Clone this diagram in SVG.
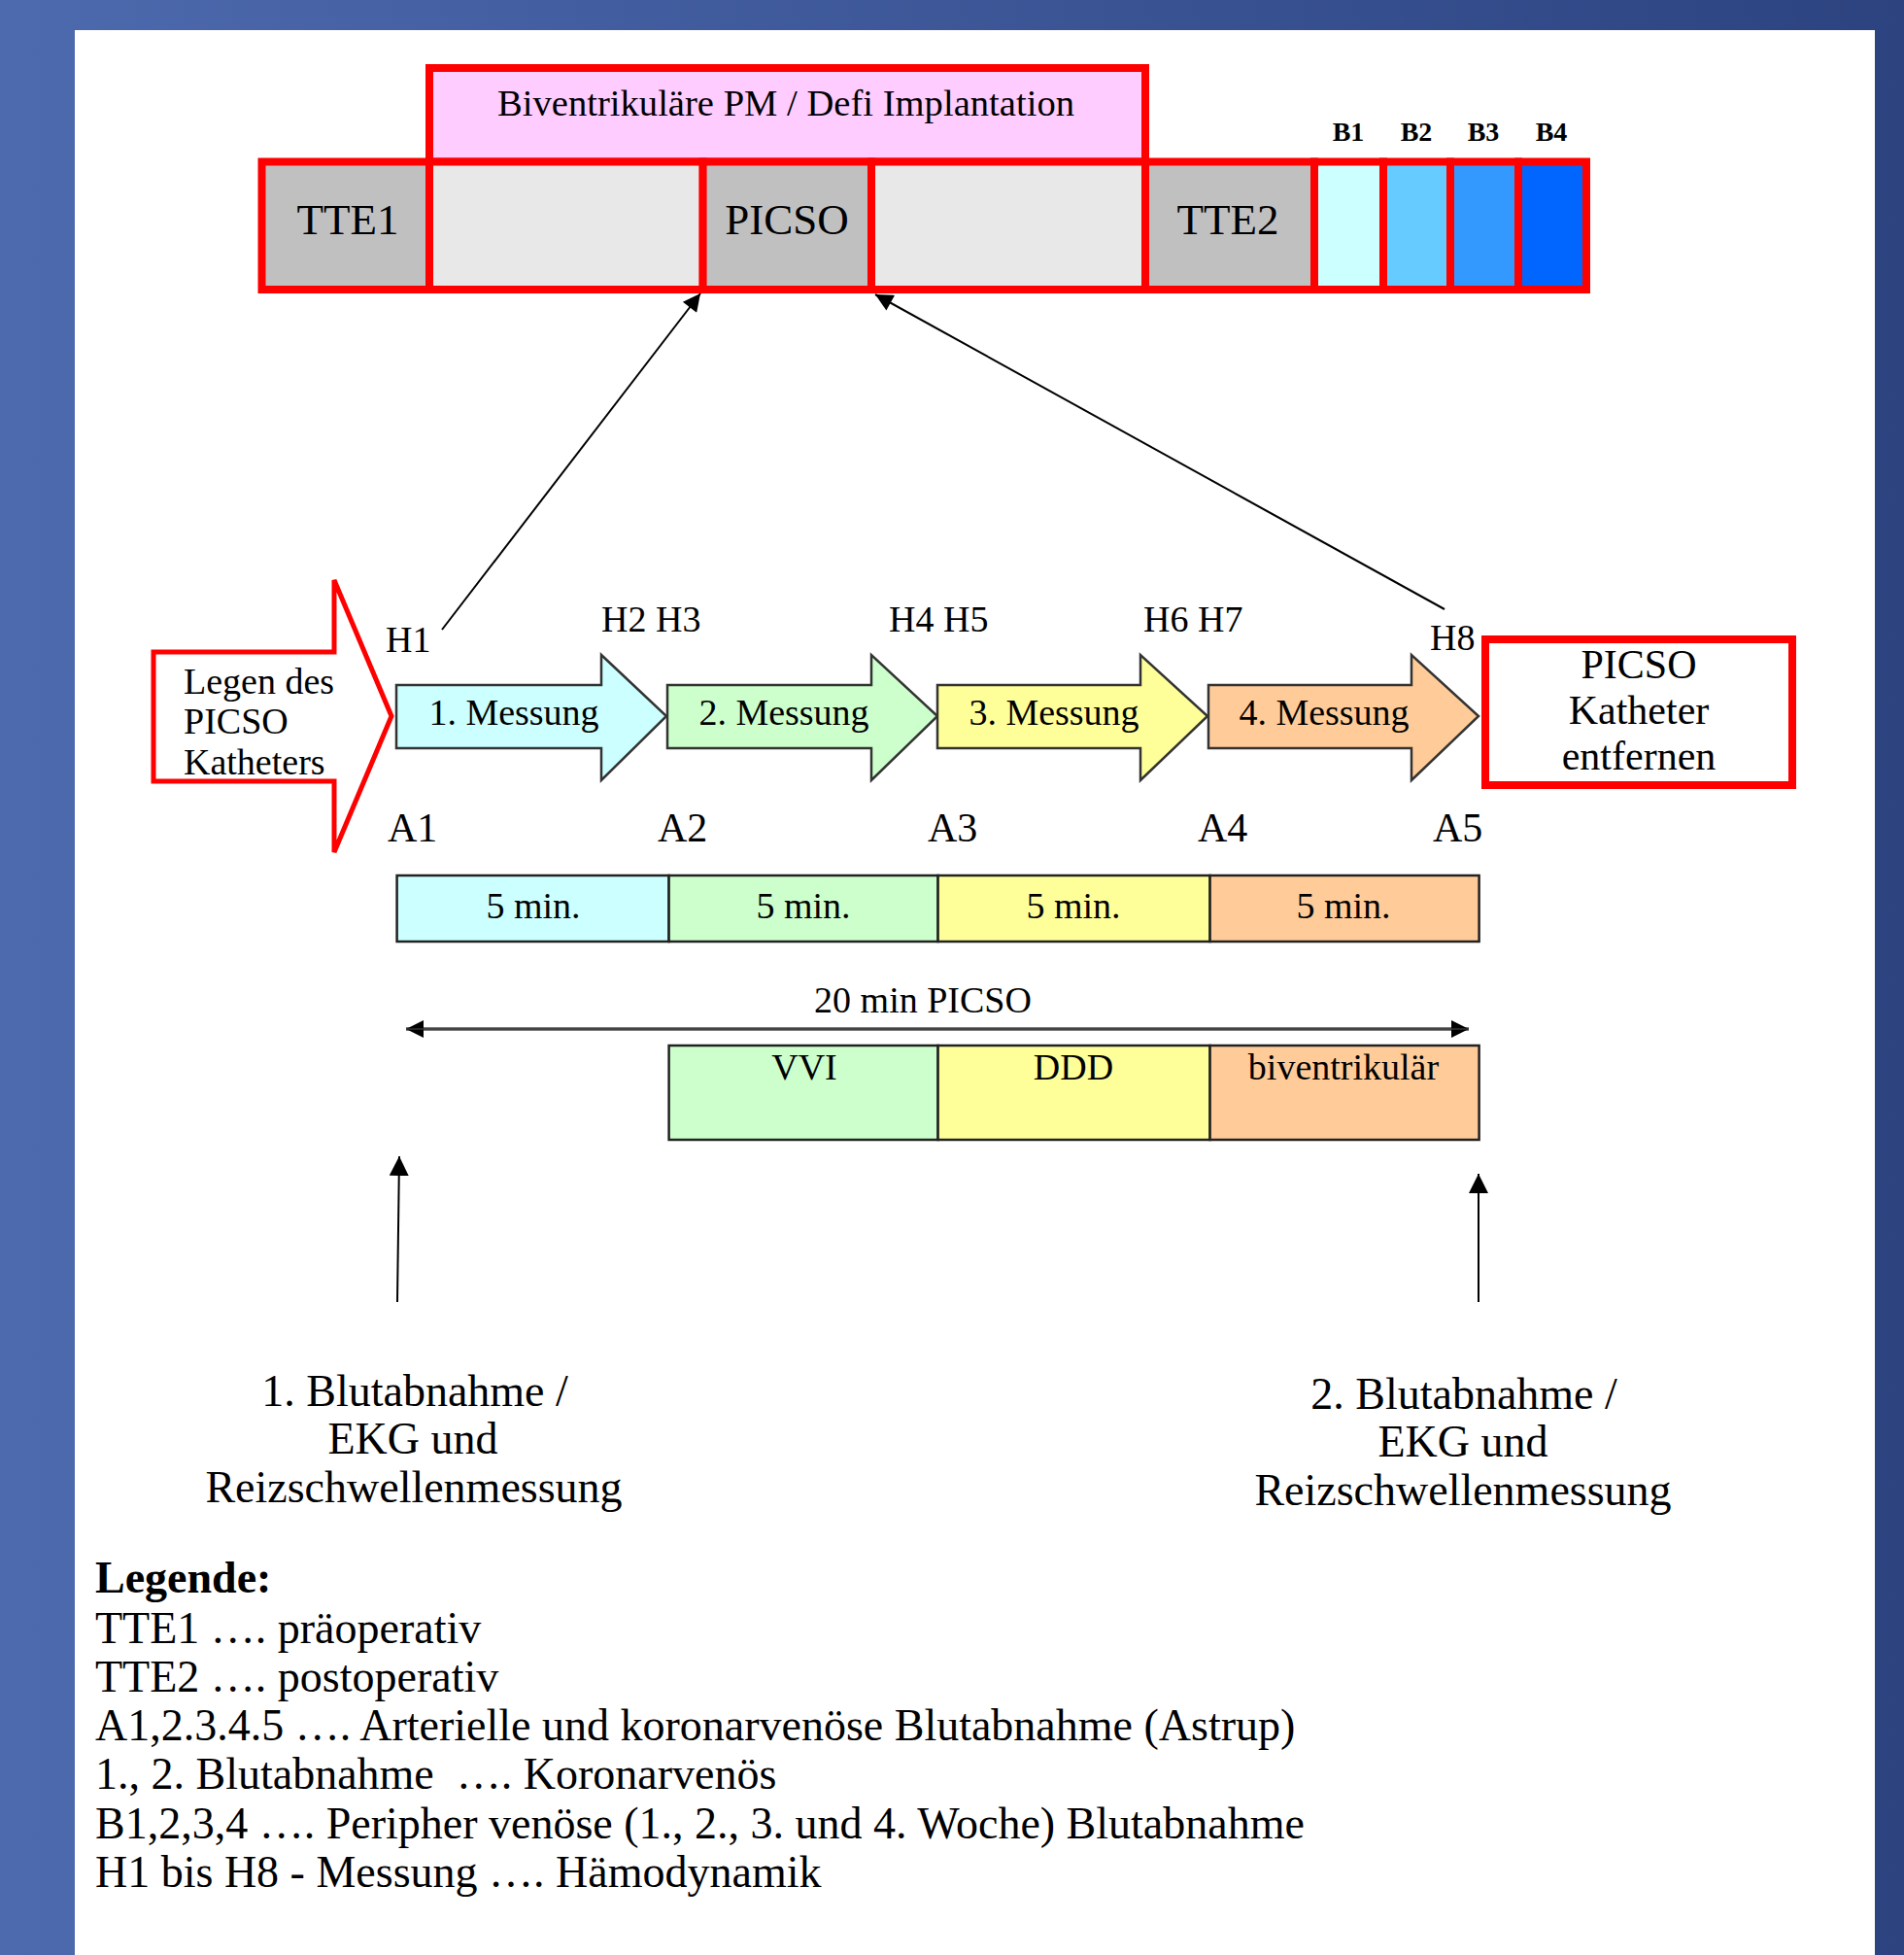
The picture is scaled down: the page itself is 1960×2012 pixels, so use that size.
<svg xmlns="http://www.w3.org/2000/svg" width="1960" height="2012" viewBox="0 0 1960 2012">
<defs>
  <linearGradient id="bg" x1="0" y1="0" x2="1" y2="0">
    <stop offset="0" stop-color="#4d6aae"/>
    <stop offset="1" stop-color="#2c4380"/>
  </linearGradient>
  <marker id="ah" viewBox="0 0 10 10" refX="10" refY="5" markerWidth="10" markerHeight="9" markerUnits="userSpaceOnUse" orient="auto">
    <path d="M0,0 L10,5 L0,10 z" fill="#000"/>
  </marker>
  <marker id="ahBig" viewBox="0 0 10 10" refX="10" refY="5" markerWidth="22" markerHeight="18" markerUnits="userSpaceOnUse" orient="auto-start-reverse">
    <path d="M0,0 L10,5 L0,10 z" fill="#000"/>
  </marker>
  <marker id="ahUp" viewBox="0 0 10 10" refX="10" refY="5" markerWidth="20" markerHeight="20" markerUnits="userSpaceOnUse" orient="auto">
    <path d="M0,0 L10,5 L0,10 z" fill="#000"/>
  </marker>
  <marker id="ahDiag" viewBox="0 0 10 10" refX="10" refY="5" markerWidth="22" markerHeight="18" markerUnits="userSpaceOnUse" orient="auto">
    <path d="M0,0 L10,5 L0,10 z" fill="#000"/>
  </marker>
</defs>
<style>
  text { font-family: 'Liberation Serif', 'Times New Roman', serif; fill: #000; }
  .cell { stroke: #ff0000; stroke-width: 8; }
  .gray { fill: #c0c0c0; }
  .lgray { fill: #e8e8e8; }
  .t45 { font-size: 45px; text-anchor: middle; }
  .t38 { font-size: 38px; }
  .t42 { font-size: 42px; }
  .t46 { font-size: 46px; }
  .mid { text-anchor: middle; }
  .blab { font-size: 28px; font-weight: bold; text-anchor: middle; }
  .marr { stroke: #333; stroke-width: 2.5; stroke-linejoin: miter; }
  .box { stroke: #222; stroke-width: 2.5; }
  .conn { stroke: #000; stroke-width: 2; fill: none; }
</style>

<rect x="0" y="0" width="1960" height="2012" fill="url(#bg)"/>
<rect x="77" y="31" width="1853" height="1981" fill="#ffffff"/>

<!-- Top timeline -->
<g id="implantation">
  <rect class="cell" x="442" y="70" width="737" height="96.5" fill="#ffccff"/>
  <text class="t38 mid" x="809" y="119" textLength="594" lengthAdjust="spacingAndGlyphs">Biventrikuläre PM / Defi Implantation</text>
</g>
<g id="tte1">
  <rect class="cell gray" x="269.5" y="166.5" width="172.5" height="131.5"/>
  <text class="t45" x="358" y="241">TTE1</text>
</g>
<g id="gap1">
  <rect class="cell lgray" x="442" y="166.5" width="281.6" height="131.5"/>
</g>
<g id="picso">
  <rect class="cell gray" x="723.6" y="166.5" width="173.4" height="131.5"/>
  <text class="t45" x="810" y="241">PICSO</text>
</g>
<g id="gap2">
  <rect class="cell lgray" x="897" y="166.5" width="282" height="131.5"/>
</g>
<g id="tte2">
  <rect class="cell gray" x="1179" y="166.5" width="174" height="131.5"/>
  <text class="t45" x="1264" y="241">TTE2</text>
</g>
<g id="b1">
  <rect class="cell" x="1353" y="166.5" width="71" height="131.5" fill="#ccffff"/>
  <text class="blab" x="1388" y="145">B1</text>
</g>
<g id="b2">
  <rect class="cell" x="1424" y="166.5" width="69" height="131.5" fill="#66ccff"/>
  <text class="blab" x="1458" y="145">B2</text>
</g>
<g id="b3">
  <rect class="cell" x="1493" y="166.5" width="70" height="131.5" fill="#3399ff"/>
  <text class="blab" x="1527" y="145">B3</text>
</g>
<g id="b4">
  <rect class="cell" x="1563" y="166.5" width="70" height="131.5" fill="#0066ff"/>
  <text class="blab" x="1597" y="145">B4</text>
</g>

<!-- Connectors -->
<g id="connectors">
  <line class="conn" x1="455" y1="648" x2="721" y2="302" marker-end="url(#ahDiag)"/>
  <line class="conn" x1="1487" y1="627" x2="901" y2="303" marker-end="url(#ahDiag)"/>
  <line x1="418" y1="1059" x2="1512" y2="1059" stroke="#7a7a7a" stroke-width="4" marker-start="url(#ahBig)" marker-end="url(#ahBig)"/>
  <line x1="418" y1="1059" x2="1512" y2="1059" stroke="#333" stroke-width="1.5"/>
  <line class="conn" x1="409" y1="1340" x2="411" y2="1190" marker-end="url(#ahUp)"/>
  <line class="conn" x1="1522" y1="1340" x2="1522" y2="1208" marker-end="url(#ahUp)"/>
</g>

<!-- Legen des PICSO Katheters -->
<g id="legen">
  <polygon points="158,671 344,671 344,597 403,737 344,877 344,804 158,804" fill="#ffffff" stroke="#ff0000" stroke-width="5"/>
  <text class="t38" x="189" y="714">Legen des</text>
  <text class="t38" x="189" y="755">PICSO</text>
  <text class="t38" x="189" y="797">Katheters</text>
</g>

<!-- Messung arrows -->
<g id="messung1">
  <polygon class="marr" points="408,705 619,705 619,674 686,737 619,803 619,770 408,770" fill="#ccffff"/>
  <text class="t38 mid" x="529" y="746">1. Messung</text>
</g>
<g id="messung2">
  <polygon class="marr" points="687,705 897,705 897,674 965,737 897,803 897,770 687,770" fill="#ccffcc"/>
  <text class="t38 mid" x="807" y="746">2. Messung</text>
</g>
<g id="messung3">
  <polygon class="marr" points="965,705 1174,705 1174,674 1243,737 1174,803 1174,770 965,770" fill="#ffff99"/>
  <text class="t38 mid" x="1085" y="746">3. Messung</text>
</g>
<g id="messung4">
  <polygon class="marr" points="1244,705 1453,705 1453,674 1522,737 1453,803 1453,770 1244,770" fill="#ffcc99"/>
  <text class="t38 mid" x="1363" y="746">4. Messung</text>
</g>

<!-- PICSO Katheter entfernen -->
<g id="entfernen">
  <rect x="1529" y="658" width="316" height="150" fill="#ffffff" stroke="#ff0000" stroke-width="8"/>
  <text class="t42 mid" x="1687" y="698">PICSO</text>
  <text class="t42 mid" x="1687" y="745">Katheter</text>
  <text class="t42 mid" x="1687" y="792">entfernen</text>
</g>

<!-- H labels -->
<g id="hlabels">
  <text class="t38" x="397" y="671">H1</text>
  <text class="t38" x="619" y="650">H2 H3</text>
  <text class="t38" x="915" y="650">H4 H5</text>
  <text class="t38" x="1177" y="650">H6 H7</text>
  <text class="t38" x="1472" y="669">H8</text>
</g>

<!-- A labels -->
<g id="alabels">
  <text class="t42" x="399" y="866">A1</text>
  <text class="t42" x="677" y="866">A2</text>
  <text class="t42" x="955" y="866">A3</text>
  <text class="t42" x="1233" y="866">A4</text>
  <text class="t42" x="1475" y="866">A5</text>
</g>

<!-- 5 min boxes -->
<g id="min1">
  <rect class="box" x="408.6" y="901" width="280" height="68" fill="#ccffff"/>
  <text class="t38 mid" x="549" y="945">5 min.</text>
</g>
<g id="min2">
  <rect class="box" x="688.6" y="901" width="277" height="68" fill="#ccffcc"/>
  <text class="t38 mid" x="827" y="945">5 min.</text>
</g>
<g id="min3">
  <rect class="box" x="965.6" y="901" width="280" height="68" fill="#ffff99"/>
  <text class="t38 mid" x="1105" y="945">5 min.</text>
</g>
<g id="min4">
  <rect class="box" x="1245.6" y="901" width="277" height="68" fill="#ffcc99"/>
  <text class="t38 mid" x="1383" y="945">5 min.</text>
</g>

<g id="picso20">
  <text class="t38 mid" x="950" y="1042">20 min PICSO</text>
</g>

<!-- Pacing mode boxes -->
<g id="vvi">
  <rect class="box" x="688.6" y="1076" width="277" height="97" fill="#ccffcc"/>
  <text class="t38 mid" x="828" y="1111">VVI</text>
</g>
<g id="ddd">
  <rect class="box" x="965.6" y="1076" width="280" height="97" fill="#ffff99"/>
  <text class="t38 mid" x="1105" y="1111">DDD</text>
</g>
<g id="biv">
  <rect class="box" x="1245.6" y="1076" width="277" height="97" fill="#ffcc99"/>
  <text class="t38 mid" x="1383" y="1111">biventrikulär</text>
</g>

<!-- Blood sampling labels -->
<g id="blut1">
  <text class="t46 mid" x="427" y="1447">1. Blutabnahme /</text>
  <text class="t46 mid" x="425" y="1496">EKG und</text>
  <text class="t46 mid" x="426" y="1546">Reizschwellenmessung</text>
</g>
<g id="blut2">
  <text class="t46 mid" x="1507" y="1450">2. Blutabnahme /</text>
  <text class="t46 mid" x="1506" y="1499">EKG und</text>
  <text class="t46 mid" x="1506" y="1549">Reizschwellenmessung</text>
</g>

<!-- Legend -->
<g id="legend">
  <text class="t46" x="98" y="1639" font-weight="bold">Legende:</text>
  <text class="t46" x="98" y="1691">TTE1 …. präoperativ</text>
  <text class="t46" x="98" y="1741">TTE2 …. postoperativ</text>
  <text class="t46" x="98" y="1791">A1,2.3.4.5 …. Arterielle und koronarvenöse Blutabnahme (Astrup)</text>
  <text class="t46" x="98" y="1841" xml:space="preserve">1., 2. Blutabnahme  …. Koronarvenös</text>
  <text class="t46" x="98" y="1892">B1,2,3,4 …. Peripher venöse (1., 2., 3. und 4. Woche) Blutabnahme</text>
  <text class="t46" x="98" y="1942">H1 bis H8 - Messung …. Hämodynamik</text>
</g>
</svg>
